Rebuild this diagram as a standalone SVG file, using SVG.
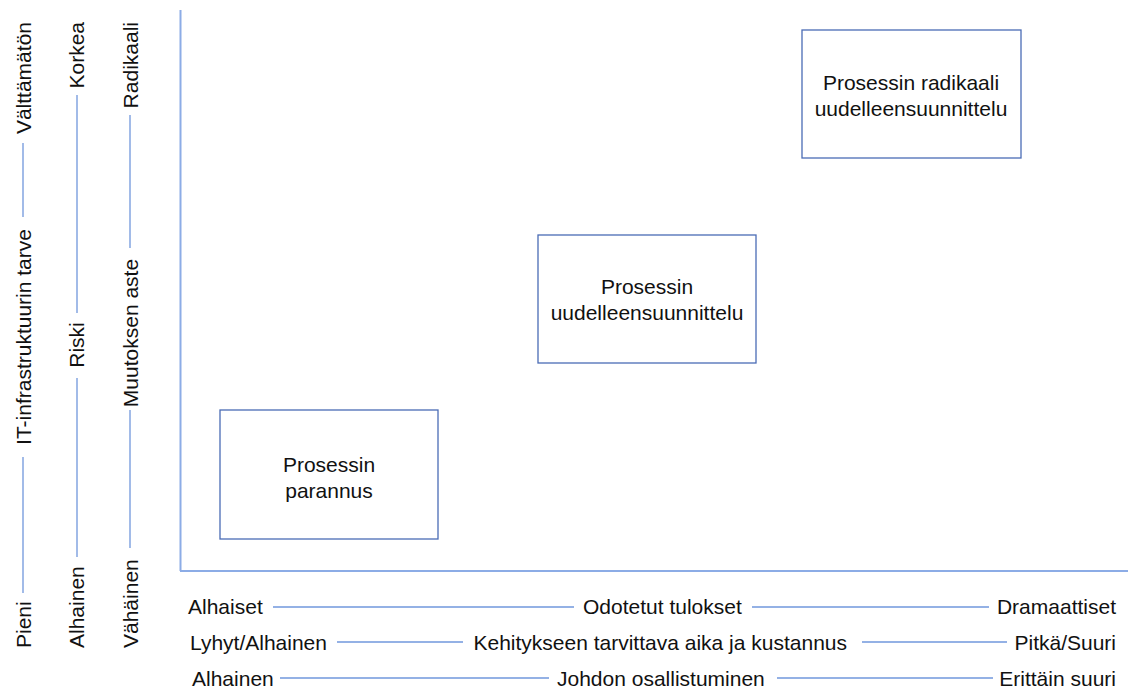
<svg xmlns="http://www.w3.org/2000/svg" width="1129" height="691" viewBox="0 0 1129 691">
<style>
text{font-family:"Liberation Sans",Arial,sans-serif;font-size:21px;fill:#111}
.box{fill:#fff;stroke:#4a6cb5;stroke-width:1.3}
.ax{stroke:#8cacE6;stroke-width:2;fill:none}
.ln{stroke:#7097dc;stroke-width:1.3;fill:none}
.c{text-anchor:middle}
</style>
<rect width="1129" height="691" fill="#fff"/>
<g id="connectors">
<line class="ax" x1="180.5" y1="10" x2="180.5" y2="571"/>
<line class="ax" x1="180" y1="571" x2="1128" y2="571"/>
<line class="ln" x1="273" y1="607" x2="574" y2="607"/>
<line class="ln" x1="752" y1="607" x2="989" y2="607"/>
<line class="ln" x1="337" y1="642" x2="463" y2="642"/>
<line class="ln" x1="862" y1="642" x2="1007" y2="642"/>
<line class="ln" x1="280" y1="678" x2="549" y2="678"/>
<line class="ln" x1="777" y1="678" x2="993" y2="678"/>
<line class="ln" x1="23" y1="143" x2="23" y2="217"/>
<line class="ln" x1="23" y1="457" x2="23" y2="593"/>
<line class="ln" x1="77" y1="95" x2="77" y2="313"/>
<line class="ln" x1="77" y1="378" x2="77" y2="557"/>
<line class="ln" x1="130" y1="115" x2="130" y2="248"/>
<line class="ln" x1="130" y1="410" x2="130" y2="548"/>
</g>
<g id="node-parannus">
<rect class="box" x="220" y="410" width="218" height="129"/>
<text class="c" x="329" y="472">Prosessin</text>
<text class="c" x="329" y="498">parannus</text>
</g>
<g id="node-uudelleensuunnittelu">
<rect class="box" x="538" y="235" width="218" height="128"/>
<text class="c" x="647" y="294">Prosessin</text>
<text class="c" x="647" y="320">uudelleensuunnittelu</text>
</g>
<g id="node-radikaali">
<rect class="box" x="802" y="30" width="219" height="128"/>
<text class="c" x="911" y="90">Prosessin radikaali</text>
<text class="c" x="911" y="116">uudelleensuunnittelu</text>
</g>
<g id="bottom-labels">
<text x="188" y="614">Alhaiset</text>
<text x="583" y="614">Odotetut tulokset</text>
<text x="1116" y="614" text-anchor="end">Dramaattiset</text>
<text x="190" y="650">Lyhyt/Alhainen</text>
<text x="847" y="650" text-anchor="end">Kehitykseen tarvittava aika ja kustannus</text>
<text x="1116" y="650" text-anchor="end">Pitkä/Suuri</text>
<text x="192" y="686">Alhainen</text>
<text x="557" y="686">Johdon osallistuminen</text>
<text x="1116" y="686" text-anchor="end">Erittäin suuri</text>
</g>
<g id="left-labels">
<text transform="translate(31,648) rotate(-90)">Pieni</text>
<text transform="translate(31,337) rotate(-90)" class="c">IT-infrastruktuurin tarve</text>
<text transform="translate(31,22) rotate(-90)" text-anchor="end">Välttämätön</text>
<text transform="translate(84,648) rotate(-90)">Alhainen</text>
<text transform="translate(84,345) rotate(-90)" class="c">Riski</text>
<text transform="translate(84,22) rotate(-90)" text-anchor="end">Korkea</text>
<text transform="translate(138,648) rotate(-90)">Vähäinen</text>
<text transform="translate(138,333) rotate(-90)" class="c">Muutoksen aste</text>
<text transform="translate(138,22) rotate(-90)" text-anchor="end">Radikaali</text>
</g>
</svg>
